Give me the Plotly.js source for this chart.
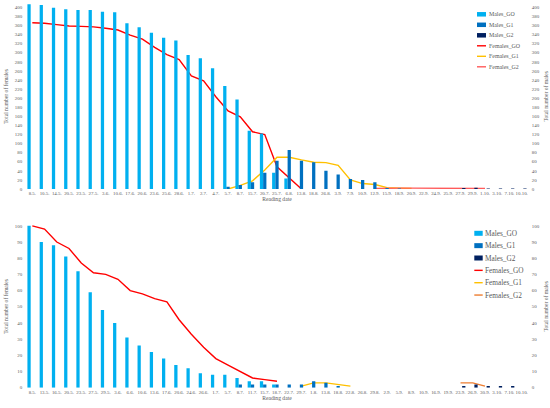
<!DOCTYPE html>
<html><head><meta charset="utf-8">
<script src="https://cdn.plot.ly/plotly-3.0.1.min.js"></script>
<style>html,body{margin:0;padding:0;background:#fff}#chart{width:550px;height:408px}</style>
</head><body><div id="chart"></div>
<script>
// ---------- DATA: top chart ----------
const datesTop = ['8.5.','10.5.','14.5.','20.5.','23.5.','27.5.','3.6.','10.6.','17.6.','20.6.','23.6.','25.6.','28.6.',
  '1.7.','2.7.','4.7.','5.7.','8.7.','15.7.','20.7.','25.7.','6.8.','13.8.','18.8.','26.8.',
  '3.9.','7.9.','10.9.','12.9.','15.9.','18.9.','20.9.','22.9.','24.9.','25.9.','27.9.','29.9.',
  '1.10.','3.10.','7.10.','10.10.'];
const malesGOTop = [407,405,399,396,394,394,390,389,365,356,344,333,327,
  295,288,266,227,197,128,122,36,23,null,null,null,
  null,null,null,null,null,null,null,null,null,null,null,null,
  null,null,null,null];
const malesG1Top = [null,null,null,null,null,null,null,null,null,null,null,null,null,
  null,null,null,5,9,15,36,62,86,62,59,40,
  32,22,20,15,2,1,null,null,null,null,null,null,
  null,null,null,null];
const malesG2Top = [null,null,null,null,null,null,null,null,null,null,null,null,null,
  null,null,null,null,null,null,null,null,null,null,null,null,
  null,null,null,null,null,null,null,null,null,null,2,3,
  1,1,1,1];
const femalesGOTop = [366,365,362,359,358,357,354,350,339,330,312,296,285,
  249,238,203,172,159,126,120,49,25,0,null,null,
  null,null,null,null,null,null,null,null,null,null,null,null,
  null,null,null,null];
const femalesG1Top = [null,null,null,null,null,null,null,null,null,null,null,null,null,
  null,null,null,0,8,18,42,70,70,64,59,58,
  52,20,12,10,3,2,1,null,null,null,null,null,
  null,null,null,null];
const femalesG2Top = [null,null,null,null,null,null,null,null,null,null,null,null,null,
  null,null,null,null,null,null,null,null,null,null,null,null,
  null,null,null,1,2,2,2,2,2,2,2,2,
  1,null,null,null];

// ---------- DATA: bottom chart ----------
const datesBot = ['8.5.','13.5.','16.5.','20.5.','23.5.','27.5.','29.5.','3.6.','6.6.','10.6.','13.6.','17.6.','20.6.','24.6.','26.6.',
  '1.7.','5.7.','8.7.','11.7.','15.7.','18.7.','22.7.','29.7.','1.8.','13.8.','18.8.','22.8.','26.8.','29.8.',
  '2.9.','5.9.','8.9.','10.9.','16.9.','19.9.','23.9.','26.9.','30.9.','3.10.','7.10.','10.10.'];
const malesGOBot = [100,90,88,81,72,59,48,40,31,26,22,18,14,12,9,
  8,8,6,4,4,2,null,null,null,null,null,null,null,null,
  null,null,null,null,null,null,null,null,null,null,null,null];
const malesG1Bot = [null,null,null,null,null,null,null,null,null,null,null,null,null,null,null,
  null,null,2,2,2,2,2,2,4,3,1,null,null,null,
  null,null,null,null,null,null,null,null,null,null,null,null];
const malesG2Bot = [null,null,null,null,null,null,null,null,null,null,null,null,null,null,null,
  null,null,null,null,null,null,null,null,null,null,null,null,null,null,
  null,null,null,null,null,null,1,2,1,1,1,null];
const femalesGOBot = [100,98,90,86,77,71,70,67,60,58,55,53,42,33,25,
  18,14,10,6,5,4,null,null,null,null,null,null,null,null,
  null,null,null,null,null,null,null,null,null,null,null,null];
const femalesG1Bot = [null,null,null,null,null,null,null,null,null,null,null,null,null,null,null,
  null,null,null,null,null,null,null,1,3,3,2,1,null,null,
  null,null,null,null,null,null,null,null,null,null,null,null];
const femalesG2Bot = [null,null,null,null,null,null,null,null,null,null,null,null,null,null,null,
  null,null,null,null,null,null,null,null,null,null,null,null,null,null,
  null,null,null,null,null,null,3,3,1,null,null,null];

const seriesNames = ['Males_GO','Males_G1','Males_G2','Females_GO','Females_G1','Females_G2'];
const ticksTop = [0,20,40,60,80,100,120,140,160,180,200,220,240,260,280,300,320,340,360,380,400];
const ticksBot = [0,10,20,30,40,50,60,70,80,90,100];

// ---------- STYLE ----------
const W = 550, H = 408;
const FONT = '"Liberation Serif", "Times New Roman", serif';
const GREY = '#595959';
const colorsTop = ['#00B0F0','#0070C0','#002060','#FF0000','#FFC000','#FF5B5B'];
const colorsBot = ['#00B0F0','#0070C0','#002060','#FF0000','#FFC000','#ED7D31'];
const px = x => x / W;
const py = y => 1 - y / H;

function bar(x, y, name, color, xa, ya) {
  return {type:'bar', x:x, y:y, name:name, xaxis:xa, yaxis:ya, marker:{color:color}, showlegend:false, hoverinfo:'x+y+name'};
}
function line(x, y, name, color, xa, ya) {
  return {type:'scatter', mode:'lines', x:x, y:y, name:name, xaxis:xa, yaxis:ya,
    line:{color:color, width:1.4}, connectgaps:false, showlegend:false};
}

const data = [
  bar(datesTop, malesGOTop, seriesNames[0], colorsTop[0], 'x', 'y2'),
  bar(datesTop, malesG1Top, seriesNames[1], colorsTop[1], 'x', 'y2'),
  bar(datesTop, malesG2Top, seriesNames[2], colorsTop[2], 'x', 'y2'),
  line(datesTop, femalesGOTop, seriesNames[3], colorsTop[3], 'x', 'y'),
  line(datesTop, femalesG1Top, seriesNames[4], colorsTop[4], 'x', 'y'),
  line(datesTop, femalesG2Top, seriesNames[5], colorsTop[5], 'x', 'y'),
  bar(datesBot, malesGOBot, seriesNames[0], colorsBot[0], 'x2', 'y4'),
  bar(datesBot, malesG1Bot, seriesNames[1], colorsBot[1], 'x2', 'y4'),
  bar(datesBot, malesG2Bot, seriesNames[2], colorsBot[2], 'x2', 'y4'),
  line(datesBot, femalesGOBot, seriesNames[3], colorsBot[3], 'x2', 'y3'),
  line(datesBot, femalesG1Bot, seriesNames[4], colorsBot[4], 'x2', 'y3'),
  line(datesBot, femalesG2Bot, seriesNames[5], colorsBot[5], 'x2', 'y3')
];

const tickFont = {family:FONT, size:4.9, color:GREY};
const titleFont = {family:FONT, size:5.6, color:GREY};
const xDomain = [px(26.2), px(527.8)];

function xAxis(anchor) {
  return {domain:xDomain, anchor:anchor, type:'category', tickangle:0, tickfont:tickFont,
    showgrid:false, zeroline:false, showline:false, ticks:'', automargin:false,
    title:{text:'Reading date', font:titleFont, standoff:2}};
}
function yAxis(domain, range, tickvals, title, side, overlay, anchor) {
  const a = {range:range, tickvals:tickvals, tickfont:tickFont, showgrid:false, zeroline:false,
    showline:false, ticks:'', automargin:false, side:side, anchor:anchor, ticklabelstandoff:3,
    title:{text:title, font:titleFont, standoff:5}};
  if (overlay) a.overlaying = overlay; else a.domain = domain;
  return a;
}

const topDom = [py(189), py(3.7)];
const botDom = [py(387.7), py(225)];

const shapes = [], annotations = [];
function legend(x0, x1, xt, y0, step, sh, fs, colors) {
  seriesNames.forEach((n, i) => {
    const yc = y0 + i * step;
    if (i < 3) {
      shapes.push({type:'rect', xref:'paper', yref:'paper', x0:px(x0), x1:px(x1),
        y0:py(yc - sh/2), y1:py(yc + sh/2), fillcolor:colors[i], line:{width:0}});
    } else {
      shapes.push({type:'line', xref:'paper', yref:'paper', x0:px(x0), x1:px(x1),
        y0:py(yc), y1:py(yc), line:{color:colors[i], width:1.4}});
    }
    annotations.push({xref:'paper', yref:'paper', x:px(xt), y:py(yc), xanchor:'left', yanchor:'middle',
      text:n, showarrow:false, font:{family:FONT, size:fs, color:GREY}});
  });
}
legend(477, 486, 486.5, 14.3, 10.5, 4.5, 5.9, colorsTop);
legend(474.3, 482.7, 483.3, 233.3, 12.35, 5, 7.3, colorsBot);

const layout = {
  width:W, height:H, margin:{l:0, r:0, t:0, b:0}, paper_bgcolor:'#fff', plot_bgcolor:'rgba(0,0,0,0)',
  barmode:'group', bargap:0.2, bargroupgap:0, showlegend:false, font:{family:FONT},
  xaxis: xAxis('y'),
  yaxis: yAxis(topDom, [0,408], ticksTop, 'Total number of females', 'left', null, 'x'),
  yaxis2: yAxis(topDom, [0,408], ticksTop, 'Total number of males', 'right', 'y', 'x'),
  xaxis2: xAxis('y3'),
  yaxis3: yAxis(botDom, [0,100.5], ticksBot, 'Total number of females', 'left', null, 'x2'),
  yaxis4: yAxis(botDom, [0,100.5], ticksBot, 'Total number of males', 'right', 'y3', 'x2'),
  shapes:shapes, annotations:annotations
};

Plotly.newPlot('chart', data, layout, {staticPlot:true, displayModeBar:false});
</script></body></html>
